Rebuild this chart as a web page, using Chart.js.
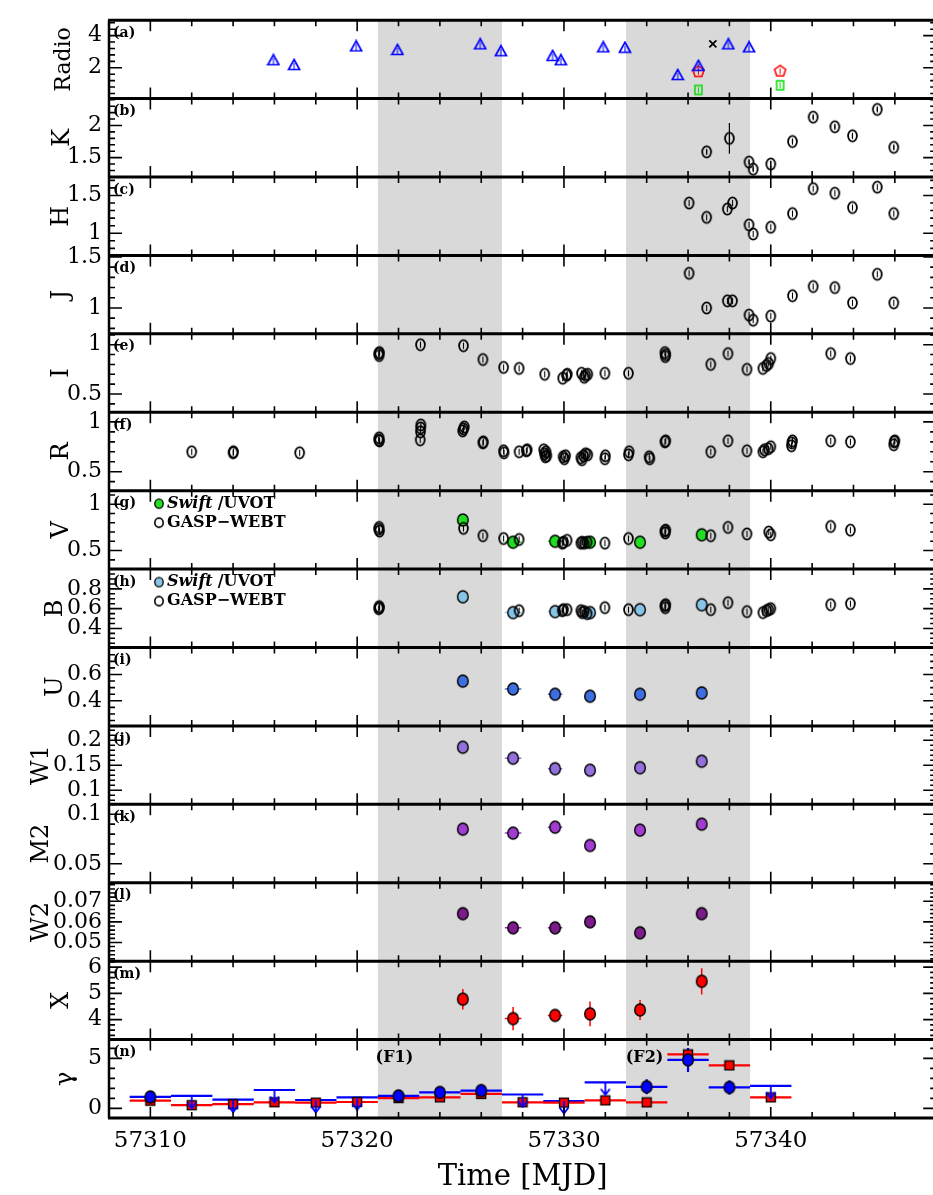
<!DOCTYPE html>
<html lang="en">
<head>
<meta charset="UTF-8">
<title>Multi-band light curves</title>
<style>
    html, body { margin: 0; padding: 0; overflow: hidden; background: #fff; }
    #lc { display: block; }
</style>
</head>
<body>
<canvas id="lc" width="944" height="1195" style="width:944px;height:1195px"></canvas>
<script src="https://cdn.jsdelivr.net/npm/chart.js"></script>
<script>
// ---- data (MJD / flux) ----
const timeTicks = [57310, 57320, 57330, 57340];
const flareBands = [[57321, 57327], [57333, 57339]];
const flareTags = ['(F1)', '(F2)'];
const flareTagT = [57321.8, 57333.9];
const flareTagY = [5.05, 5.05];

// (a) radio
const radioTriT = [57315.95, 57316.95, 57319.95, 57321.95, 57325.95, 57326.95, 57329.45, 57329.85, 57331.9, 57332.95, 57335.5, 57336.5, 57337.95, 57338.95];
const radioTriF = [2.50, 2.20, 3.36, 3.14, 3.49, 3.06, 2.77, 2.50, 3.30, 3.28, 1.58, 2.15, 3.49, 3.30];
const radioCrossT = [57337.2];
const radioCrossF = [3.49];
const radioPentT = [57336.5, 57340.45];
const radioPentF = [1.75, 1.79];
const radioSqT = [57336.5, 57340.45];
const radioSqF = [0.62, 0.91];

// (b)-(d) near infrared
const kT = [57336.9, 57338.0, 57338.95, 57339.15, 57340.0, 57341.05, 57342.05, 57343.1, 57343.95, 57345.15, 57345.95];
const kF = [1.59, 1.80, 1.43, 1.32, 1.40, 1.75, 2.13, 1.98, 1.84, 2.25, 1.66];
const kErr = [0.03, 0.24, 0.03, 0.03, 0.05, 0.03, 0.03, 0.03, 0.03, 0.03, 0.03];
const hjT = [57336.05, 57336.9, 57337.9, 57338.15, 57338.95, 57339.15, 57340.0, 57341.05, 57342.05, 57343.1, 57343.95, 57345.15, 57345.95];
const hF = [1.40, 1.21, 1.32, 1.40, 1.11, 0.99, 1.08, 1.26, 1.59, 1.53, 1.34, 1.61, 1.26];
const jF = [1.34, 1.00, 1.07, 1.07, 0.93, 0.88, 0.92, 1.12, 1.21, 1.20, 1.05, 1.33, 1.05];

// (e)-(h) GASP-WEBT optical
const iT = [57321.04, 57321.06, 57321.08, 57323.06, 57325.14, 57326.08, 57327.08, 57327.83, 57329.07, 57329.94, 57330.12, 57330.16, 57330.85, 57330.98, 57331.05, 57331.15, 57331.98, 57333.12, 57334.88, 57334.9, 57334.92, 57337.1, 57337.93, 57338.85, 57339.62, 57339.8, 57339.9, 57340.0, 57342.9, 57343.85];
const iF = [0.91, 0.89, 0.92, 1.00, 0.99, 0.85, 0.77, 0.76, 0.70, 0.66, 0.69, 0.70, 0.71, 0.67, 0.69, 0.70, 0.71, 0.71, 0.92, 0.88, 0.90, 0.80, 0.91, 0.75, 0.76, 0.79, 0.81, 0.86, 0.91, 0.86];
const rT = [57312.0, 57314.0, 57314.02, 57317.22, 57321.04, 57321.06, 57321.08, 57323.05, 57323.06, 57323.07, 57323.08, 57325.1, 57325.14, 57325.18, 57326.08, 57326.1, 57327.08, 57327.1, 57327.83, 57328.18, 57328.22, 57329.02, 57329.06, 57329.1, 57329.13, 57329.17, 57329.96, 57330.02, 57330.08, 57330.82, 57330.87, 57330.95, 57331.05, 57331.15, 57331.98, 57332.0, 57333.12, 57333.15, 57334.12, 57334.15, 57334.88, 57334.92, 57337.1, 57337.93, 57338.85, 57339.62, 57339.7, 57339.88, 57340.0, 57341.0, 57341.02, 57341.05, 57342.9, 57343.85, 57345.95, 57345.97, 57346.0];
const rF = [0.70, 0.69, 0.70, 0.69, 0.82, 0.84, 0.81, 0.82, 0.90, 0.94, 0.97, 0.91, 0.93, 0.95, 0.79, 0.80, 0.71, 0.69, 0.70, 0.71, 0.72, 0.72, 0.68, 0.65, 0.70, 0.66, 0.65, 0.63, 0.66, 0.64, 0.62, 0.66, 0.68, 0.67, 0.63, 0.66, 0.67, 0.70, 0.65, 0.63, 0.80, 0.81, 0.70, 0.81, 0.71, 0.70, 0.72, 0.73, 0.75, 0.76, 0.79, 0.81, 0.81, 0.80, 0.77, 0.80, 0.81];
const vT = [57321.04, 57321.06, 57321.08, 57325.14, 57326.08, 57327.08, 57327.83, 57329.92, 57329.98, 57330.15, 57330.82, 57330.88, 57330.98, 57331.12, 57331.98, 57333.12, 57334.88, 57334.9, 57334.92, 57337.1, 57337.93, 57338.85, 57339.9, 57340.0, 57342.9, 57343.85];
const vF = [0.73, 0.75, 0.71, 0.74, 0.66, 0.63, 0.62, 0.58, 0.59, 0.61, 0.58, 0.59, 0.58, 0.59, 0.58, 0.63, 0.71, 0.69, 0.72, 0.66, 0.75, 0.68, 0.70, 0.67, 0.76, 0.72];
const bT = [57321.04, 57321.06, 57321.08, 57327.83, 57329.92, 57329.98, 57330.15, 57330.82, 57330.88, 57330.98, 57331.12, 57331.98, 57333.12, 57334.88, 57334.9, 57334.92, 57337.1, 57337.93, 57338.85, 57339.62, 57339.8, 57339.9, 57340.0, 57342.9, 57343.85];
const bF = [0.60, 0.62, 0.61, 0.58, 0.58, 0.59, 0.59, 0.58, 0.56, 0.57, 0.55, 0.61, 0.59, 0.63, 0.61, 0.64, 0.59, 0.66, 0.57, 0.56, 0.58, 0.59, 0.60, 0.64, 0.65];

// Swift UVOT / XRT
const swiftT = [57325.11, 57327.54, 57329.57, 57331.26, 57333.68, 57336.66];
const swiftDt = [0, 0.4, 0.35, 0, 0, 0];
const vSwift = [0.83, 0.59, 0.60, 0.59, 0.59, 0.67];
const bSwift = [0.72, 0.56, 0.57, 0.56, 0.59, 0.64];
const uSwift = [0.55, 0.49, 0.45, 0.435, 0.45, 0.46];
const w1Swift = [0.186, 0.164, 0.143, 0.140, 0.145, 0.158];
const m2Swift = [0.085, 0.081, 0.087, 0.0685, 0.084, 0.090];
const w2Swift = [0.064, 0.0571, 0.0571, 0.060, 0.0547, 0.064];
const w2Err = [0.0025, 0.002, 0.0012, 0.0012, 0.001, 0.0025];
const xrayF = [4.78, 4.04, 4.16, 4.22, 4.37, 5.46];
const xrayErr = [0.39, 0.44, 0.22, 0.47, 0.38, 0.5];

// (n) Fermi-LAT, 2-day bins
const gamBinHalf = 1;
const gamT = [57310, 57312, 57314, 57316, 57318, 57320, 57322, 57324, 57326, 57328, 57330, 57332, 57334, 57336, 57338, 57340];
const gamRed = [0.77, 0.32, 0.42, 0.61, 0.58, 0.64, 1.03, 1.10, 1.45, 0.61, 0.58, 0.80, 0.60, 5.40, 4.30, 1.10];
const gamBlueDetT = [57310, 57322, 57324, 57326, 57334, 57336, 57338];
const gamBlueDetF = [1.15, 1.25, 1.60, 1.78, 2.16, 4.85, 2.10];
const gamBlueDetErr = [0.5, 0.4, 0.5, 0.6, 0.75, 1.2, 0.7];
const gamBlueUlT = [57312, 57314, 57316, 57318, 57320, 57328, 57330, 57332, 57340];
const gamBlueUlF = [1.26, 0.87, 1.84, 0.84, 1.10, 1.39, 0.74, 2.60, 2.26];

// axis ticks
const radioTicks = [2, 4], kTicks = [1.5, 2], hTicks = [1, 1.5], jTicks = [1, 1.5];
const iTicks = [0.5, 1], rTicks = [0.5, 1], vTicks = [0.5, 1], bTicks = [0.4, 0.6, 0.8];
const uTicks = [0.4, 0.6], w1Ticks = [0.1, 0.15, 0.2], m2Ticks = [0.05, 0.1];
const w2Ticks = [0.05, 0.06, 0.07], xTicks = [4, 5, 6], gTicks = [0, 5];

const SERIF = "'DejaVu Serif', 'Liberation Serif', serif";

const panels = [
    { id: 'yA', title: 'Radio', tag: '(a)', min: 0.08, max: 4.96, ticks: radioTicks, minor: 0.4, tx: 64, ts: 22 },
    { id: 'yB', title: 'K', tag: '(b)', min: 1.198, max: 2.418, ticks: kTicks, minor: 0.1, tx: 63 },
    { id: 'yC', title: 'H', tag: '(c)', min: 0.706, max: 1.744, ticks: hTicks, minor: 0.1, tx: 62 },
    { id: 'yD', title: 'J', tag: '(d)', min: 0.746, max: 1.515, ticks: jTicks, minor: 0.1, tx: 62 },
    { id: 'yE', title: 'I', tag: '(e)', min: 0.315, max: 1.11, ticks: iTicks, minor: 0.1, tx: 62 },
    { id: 'yF', title: 'R', tag: '(f)', min: 0.309, max: 1.097, ticks: rTicks, minor: 0.1, tx: 62 },
    { id: 'yG', title: 'V', tag: '(g)', min: 0.30, max: 1.146, ticks: vTicks, minor: 0.1, tx: 62 },
    { id: 'yH', title: 'B', tag: '(h)', min: 0.207, max: 1.0, ticks: bTicks, minor: 0.05, tx: 56 },
    { id: 'yI', title: 'U', tag: '(i)', min: 0.209, max: 0.805, ticks: uTicks, minor: 0.05, tx: 56 },
    { id: 'yJ', title: 'W1', tag: '(j)', min: 0.0718, max: 0.2286, ticks: w1Ticks, minor: 0.01, tx: 42 },
    { id: 'yK', title: 'M2', tag: '(k)', min: 0.0309, max: 0.11, ticks: m2Ticks, minor: 0.01, tx: 42 },
    { id: 'yL', title: 'W2', tag: '(l)', min: 0.0409, max: 0.079, ticks: w2Ticks, minor: 0.002, tx: 42 },
    { id: 'yM', title: 'X', tag: '(m)', min: 3.24, max: 6.225, ticks: xTicks, minor: 0.2, tx: 62 },
    { id: 'yN', title: 'γ', tag: '(n)', min: -0.96, max: 6.88, ticks: gTicks, minor: 1, tx: 66 }
];

// ---- marker images ----
function mark(w, h, draw) {
    const c = document.createElement('canvas');
    c.width = w; c.height = h;
    draw(c.getContext('2d'), w / 2, h / 2);
    return c;
}
function ellipseMark(fill, rx, ry, lw, inner) {
    return mark(Math.ceil(rx * 2 + lw + 2), Math.ceil(ry * 2 + lw + 2), (g, cx, cy) => {
        g.beginPath();
        g.ellipse(cx, cy, rx, ry, 0, 0, Math.PI * 2);
        if (fill) { g.fillStyle = fill; g.fill(); }
        g.lineWidth = lw; g.strokeStyle = '#000'; g.stroke();
        if (inner) {
            g.beginPath(); g.moveTo(cx, cy - ry * 0.55); g.lineTo(cx, cy + ry * 0.55);
            g.lineWidth = 1.1; g.stroke();
        }
    });
}
const gaspMark = ellipseMark(null, 4.4, 5.7, 1.8, true);
const swiftMark = c => ellipseMark(c, 5.3, 6, 1.4, false);
const triMark = mark(14, 13, (g, cx, cy) => {
    g.strokeStyle = '#0000ff'; g.lineWidth = 1.7;
    g.beginPath(); g.moveTo(cx, 1.5); g.lineTo(12.5, 11.5); g.lineTo(1.5, 11.5); g.closePath(); g.stroke();
    g.lineWidth = 1; g.beginPath(); g.moveTo(cx, 5); g.lineTo(cx, 11); g.stroke();
});
const pentMark = mark(15, 15, (g, cx, cy) => {
    g.strokeStyle = '#ff0000'; g.lineWidth = 1.6; g.beginPath();
    for (let k = 0; k < 5; k++) {
        const a = -Math.PI / 2 + k * 2 * Math.PI / 5;
        const px = cx + 5.8 * Math.cos(a), py = cy + 5.8 * Math.sin(a);
        k ? g.lineTo(px, py) : g.moveTo(px, py);
    }
    g.closePath(); g.stroke();
    g.lineWidth = 1; g.beginPath(); g.moveTo(cx, cy - 3); g.lineTo(cx, cy + 3); g.stroke();
});
const sqMark = mark(11, 13, (g, cx, cy) => {
    g.strokeStyle = '#00dd00'; g.lineWidth = 1.5;
    g.strokeRect(cx - 3.5, cy - 4.5, 7, 9);
    g.lineWidth = 1; g.beginPath(); g.moveTo(cx, cy - 3); g.lineTo(cx, cy + 3); g.stroke();
});
const redSqMark = mark(12, 12, (g, cx, cy) => {
    g.fillStyle = '#ff0000'; g.fillRect(cx - 4.5, cy - 4.5, 9, 9);
    g.strokeStyle = '#000'; g.lineWidth = 1.3; g.strokeRect(cx - 4.5, cy - 4.5, 9, 9);
});
const arrowMark = mark(12, 28, (g, cx, cy) => {
    g.strokeStyle = '#0000ff'; g.lineWidth = 1.8;
    g.beginPath(); g.moveTo(cx, cy); g.lineTo(cx, cy + 12);
    g.moveTo(cx - 4.5, cy + 6.5); g.lineTo(cx, cy + 12.5); g.lineTo(cx + 4.5, cy + 6.5);
    g.stroke();
});

function pts(t, f) { return t.map((v, i) => ({ x: v, y: f[i] })); }
function set(yAxisID, t, f, pointStyle, extra) {
    return Object.assign({
        type: 'scatter', yAxisID, xAxisID: 'x', data: pts(t, f), pointStyle,
        pointRadius: 6, pointHoverRadius: 6, showLine: false,
        borderColor: '#000', backgroundColor: 'rgba(0,0,0,0)'
    }, extra || {});
}
const tBins = t => t.map(() => gamBinHalf);

const datasets = [
    set('yA', radioTriT, radioTriF, triMark),
    set('yA', radioCrossT, radioCrossF, 'crossRot', { pointRadius: 5, borderWidth: 1.8 }),
    set('yA', radioPentT, radioPentF, pentMark),
    set('yA', radioSqT, radioSqF, sqMark),
    set('yB', kT, kF, gaspMark, { errY: kErr, errColor: '#000', errWidth: 1.2 }),
    set('yC', hjT, hF, gaspMark),
    set('yD', hjT, jF, gaspMark),
    set('yE', iT, iF, gaspMark),
    set('yF', rT, rF, gaspMark),
    set('yG', vT, vF, gaspMark),
    set('yG', swiftT, vSwift, swiftMark('#22dd22'), { errX: swiftDt, errColor: '#22dd22' }),
    set('yH', bT, bF, gaspMark),
    set('yH', swiftT, bSwift, swiftMark('#87c4e6'), { errX: swiftDt, errColor: '#87c4e6' }),
    set('yI', swiftT, uSwift, swiftMark('#3d6fe0'), { errX: swiftDt, errColor: '#3d6fe0' }),
    set('yJ', swiftT, w1Swift, swiftMark('#9370db'), { errX: swiftDt, errColor: '#9370db' }),
    set('yK', swiftT, m2Swift, swiftMark('#a03cd0'), { errX: swiftDt, errColor: '#a03cd0' }),
    set('yL', swiftT, w2Swift, swiftMark('#7d1a8c'), { errX: swiftDt, errY: w2Err, errColor: '#9a2aaa' }),
    set('yM', swiftT, xrayF, swiftMark('#ff0000'), { errX: swiftDt, errY: xrayErr, errColor: '#ff0000' }),
    set('yN', gamBlueUlT, gamBlueUlF, arrowMark, { errX: tBins(gamBlueUlT), errColor: '#0000ff', errWidth: 2.2 }),
    set('yN', gamBlueDetT, gamBlueDetF, swiftMark('#0000ff'), { errX: tBins(gamBlueDetT), errY: gamBlueDetErr, errColor: '#0000ff', errWidth: 2.2 }),
    set('yN', gamT, gamRed, redSqMark, { errX: tBins(gamT), errColor: '#ff0000', errWidth: 2.2 })
];

// ---- axes ----
const scales = {
    x: {
        type: 'linear', position: 'bottom', min: 57308, max: 57348,
        afterBuildTicks: s => { s.ticks = timeTicks.map(v => ({ value: v })); },
        afterFit: s => { s.height = 77; },
        grid: { display: false, drawTicks: false },
        border: { display: false },
        ticks: { color: '#000', font: { family: SERIF, size: 23 }, padding: 9, autoSkip: false, maxRotation: 0, callback: v => String(v) },
        title: { display: true, text: 'Time [MJD]', color: '#000', font: { family: SERIF, size: 29 }, padding: { top: 0, bottom: 0 } }
    }
};
panels.forEach((p, i) => {
    const ts = p.ts || 24;
    scales[p.id] = {
        type: 'linear', position: 'left', stack: 'panels', stackWeight: 1, weight: panels.length - i,
        min: p.min, max: p.max,
        afterBuildTicks: s => { s.ticks = p.ticks.map(v => ({ value: v })); },
        afterFit: s => { s.width = 109; },
        grid: { display: false, drawTicks: false },
        border: { display: false },
        ticks: { color: '#000', font: { family: SERIF, size: 22 }, padding: 7, autoSkip: false, callback: v => String(v) },
        title: { display: true, text: p.title, color: '#000', font: { family: SERIF, size: ts }, padding: { top: p.tx - ts * 0.6, bottom: 0 } }
    };
});

// ---- drawing helpers: flare bands, error bars, frame, labels ----
const decor = {
    id: 'decor',
    beforeDatasetsDraw(chart) {
        const { ctx, chartArea: a, scales: sc } = chart;
        const x = sc.x;
        ctx.save();
        ctx.fillStyle = '#d9d9d9';
        flareBands.forEach(([t0, t1]) => {
            const x0 = x.getPixelForValue(t0), x1 = x.getPixelForValue(t1);
            ctx.fillRect(x0, a.top, x1 - x0, a.bottom - a.top);
        });
        chart.data.datasets.forEach(ds => {
            if (!ds.errX && !ds.errY) return;
            const y = sc[ds.yAxisID];
            ctx.strokeStyle = ds.errColor;
            ctx.lineWidth = ds.errWidth || 1.5;
            ctx.beginPath();
            ds.data.forEach((p, j) => {
                const px = x.getPixelForValue(p.x), py = y.getPixelForValue(p.y);
                const ex = ds.errX ? ds.errX[j] : 0, ey = ds.errY ? ds.errY[j] : 0;
                if (ex) { ctx.moveTo(x.getPixelForValue(p.x - ex), py); ctx.lineTo(x.getPixelForValue(p.x + ex), py); }
                if (ey) { ctx.moveTo(px, y.getPixelForValue(p.y - ey)); ctx.lineTo(px, y.getPixelForValue(p.y + ey)); }
            });
            ctx.stroke();
        });
        ctx.restore();
    },
    afterDatasetsDraw(chart) {
        const { ctx, chartArea: a, scales: sc } = chart;
        const x = sc.x;
        ctx.save();
        ctx.strokeStyle = '#000';
        ctx.lineWidth = 1.6;
        ctx.beginPath();
        panels.forEach(p => {
            const s = sc[p.id];
            for (let t = 57308; t <= 57348; t += 2) {
                const px = x.getPixelForValue(t);
                const len = t % 10 === 0 ? 11 : 6;
                ctx.moveTo(px, s.top); ctx.lineTo(px, s.top + len);
                ctx.moveTo(px, s.bottom); ctx.lineTo(px, s.bottom - len);
            }
            for (let k = Math.ceil(p.min / p.minor - 1e-6); k * p.minor <= p.max + 1e-9; k++) {
                const v = k * p.minor;
                const py = s.getPixelForValue(v);
                const major = p.ticks.some(tv => Math.abs(tv - v) < p.minor * 1e-3);
                const len = major ? 13 : 6;
                ctx.moveTo(a.left, py); ctx.lineTo(a.left + len, py);
                ctx.moveTo(a.right, py); ctx.lineTo(a.right - len, py);
            }
        });
        ctx.stroke();
        ctx.lineWidth = 3;
        ctx.beginPath();
        panels.forEach(p => { const s = sc[p.id]; ctx.moveTo(a.left - 1, s.top); ctx.lineTo(a.right, s.top); });
        ctx.moveTo(a.left - 1, a.bottom); ctx.lineTo(a.right, a.bottom);
        ctx.stroke();
        ctx.lineWidth = 2.5;
        ctx.beginPath(); ctx.moveTo(a.left, a.top); ctx.lineTo(a.left, a.bottom); ctx.stroke();
        ctx.restore();
    },
    afterDraw(chart) {
        const { ctx, chartArea: a, scales: sc } = chart;
        ctx.save();
        ctx.fillStyle = '#000';
        ctx.textBaseline = 'middle';
        ctx.font = 'bold 14px ' + SERIF;
        panels.forEach(p => ctx.fillText(p.tag, a.left + 4, sc[p.id].top + 13));
        // F1 / F2 tags
        ctx.font = 'bold 16px ' + SERIF;
        ctx.textAlign = 'center';
        flareTags.forEach((txt, i) => ctx.fillText(txt, sc.x.getPixelForValue(flareTagT[i]), sc.yN.getPixelForValue(flareTagY[i])));
        // legends in (g) and (h)
        ctx.textAlign = 'left';
        [['yG', '#22dd22'], ['yH', '#87c4e6']].forEach(([id, col]) => {
            const top = sc[id].top;
            const cx = a.left + 50;
            ctx.drawImage(ellipseMark(col, 4.2, 4.6, 1.3, false), cx - 6, top + 13 - 6.5);
            ctx.drawImage(ellipseMark(null, 4.2, 4.6, 1.6, false), cx - 6, top + 32 - 6.5);
            let tx = cx + 8;
            ctx.font = 'italic bold 16px ' + SERIF;
            ctx.fillText('Swift', tx, top + 13);
            tx += ctx.measureText('Swift').width + 5;
            ctx.font = 'bold 16px ' + SERIF;
            ctx.fillText('/UVOT', tx, top + 13);
            ctx.fillText('GASP\u2212WEBT', cx + 8, top + 32);
        });
        ctx.restore();
    }
};

new Chart(document.getElementById('lc'), {
    data: { datasets },
    options: {
        responsive: false,
        animation: false,
        events: [],
        layout: { padding: { top: 5, right: 2, left: 0, bottom: 0 } },
        plugins: { legend: { display: false }, tooltip: { enabled: false } },
        scales
    },
    plugins: [decor]
});
</script>
</body>
</html>
